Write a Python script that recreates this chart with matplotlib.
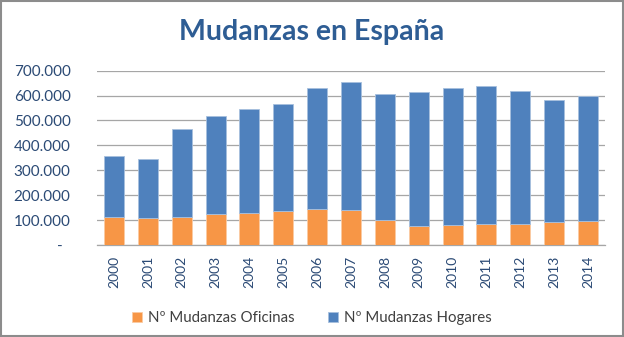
import matplotlib
matplotlib.use("Agg")
import matplotlib.pyplot as plt
from matplotlib.patches import Rectangle
from matplotlib.ticker import FuncFormatter

# --- DATA ---
years = ["2000", "2001", "2002", "2003", "2004", "2005", "2006", "2007",
         "2008", "2009", "2010", "2011", "2012", "2013", "2014"]
oficinas = [114000, 107000, 114000, 124000, 130000, 137000, 146000, 141000,
            100000, 76000, 79000, 83000, 86000, 92000, 95000]
totales = [357000, 344000, 465000, 519000, 545000, 565000, 629000, 655000,
           606000, 616000, 629000, 639000, 620000, 584000, 598000]
hogares = [t - o for t, o in zip(totales, oficinas)]

ORANGE = "#F79646"
BLUE = "#4F81BD"
TITLE_BLUE = "#2E5D94"
AXIS_BLUE = "#2B4A75"

plt.rcParams['font.family'] = ['Lato', 'DejaVu Sans']

fig = plt.figure(figsize=(6.24, 3.37), dpi=100)
ax = fig.add_axes([97 / 624, 1 - 245 / 337, 508 / 624, 174.3 / 337])

x = range(len(years))
ax.bar(x, oficinas, width=0.59, color=ORANGE, edgecolor="#FBCBA3",
       linewidth=0.6, label="Nº Mudanzas Oficinas", zorder=3)
ax.bar(x, hogares, bottom=oficinas, width=0.59, color=BLUE, edgecolor="#A7C0DE",
       linewidth=0.6, label="Nº Mudanzas Hogares", zorder=3)

ax.set_xlim(-0.5, len(years) - 0.5)
ax.set_ylim(0, 700000)
ax.set_yticks(range(0, 700001, 100000))


def fmt(v, pos):
    if v == 0:
        return "-  "
    return f"{int(v):,}".replace(",", ".")


ax.yaxis.set_major_formatter(FuncFormatter(fmt))
ax.set_xticks(list(x))
ax.set_xticklabels(years, rotation=90)

ax.tick_params(axis="y", length=0, pad=19, labelsize=11, labelcolor=AXIS_BLUE)
ax.tick_params(axis="x", length=0, pad=8, labelsize=10, labelcolor=AXIS_BLUE)

ax.grid(axis="y", color="#A6A6A6", linewidth=0.9, zorder=0)
for side in ["left", "right", "top"]:
    ax.spines[side].set_visible(False)
ax.spines["bottom"].set_color("#A6A6A6")
ax.spines["bottom"].set_linewidth(0.9)

fig.text(0.5, 1 - 32 / 337, "Mudanzas en España", ha="center", va="center",
         fontsize=20.5, fontweight="bold", color=TITLE_BLUE)

leg = fig.legend(loc="center", bbox_to_anchor=(0.5, 1 - 318 / 337), ncol=2,
                 frameon=False, fontsize=10.8, handlelength=0.7, handleheight=0.7,
                 handletextpad=0.4, columnspacing=2.2)
for t in leg.get_texts():
    t.set_color("#404040")

# chart border like the spreadsheet frame
fig.patches.append(Rectangle((0.001, 0.002), 0.997, 0.996, transform=fig.transFigure,
                             fill=False, edgecolor="#8C8C8C", linewidth=1.5))

fig.savefig("out.png", dpi=100)
